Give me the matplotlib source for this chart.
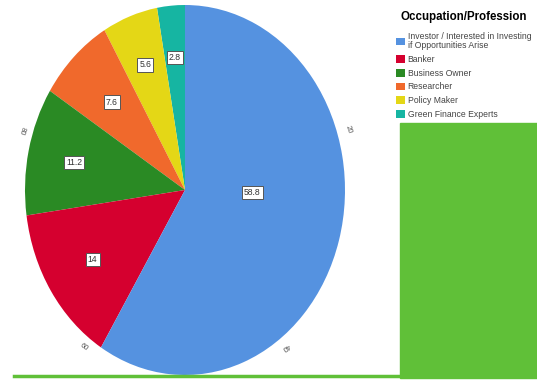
import numpy as np
import matplotlib.pyplot as plt
from matplotlib.patches import Patch, Rectangle
from matplotlib.lines import Line2D

plt.rcParams['font.family'] = ['Liberation Sans', 'DejaVu Sans']

# 数据
categories = ['Investor / Interested in Investing\nif Opportunities Arise', 'Banker',
              'Business Owner', 'Researcher', 'Policy Maker', 'Green Finance Experts']
values = [58.8, 14, 11.2, 7.6, 5.6, 2.8]
value_labels = ['58.8', '14', '11.2', '7.6', '5.6', '2.8']
colors = ['#5592E0', '#D5002F', '#2A8A24', '#F0692C', '#E4D716', '#16B5A2']
rim_ticks = ['20', '40', '60', '80']

fig = plt.figure(figsize=(5.37, 3.83), dpi=100)

# 右侧绿色块和底部绿线
fig.patches.append(Rectangle((400 / 537, 5 / 383), 137 / 537, 255 / 383,
                             transform=fig.transFigure, color='#60C038', zorder=0))
fig.add_artist(Line2D([14 / 537, 400 / 537], [7 / 383, 7 / 383],
                      transform=fig.transFigure, color='#60C038', lw=2.5))

ax = fig.add_axes([25 / 537, 8 / 383, 320 / 537, 370 / 383])
# 饼图从顶部开始，逆时针方向，蓝色块最后画
order = values[::-1]
wedges, _ = ax.pie(order, colors=colors[::-1], startangle=90, counterclock=True,
                   wedgeprops=dict(linewidth=0))
ax.set_aspect('auto')
ax.set_xlim(-1, 1)
ax.set_ylim(-1, 1)

lab_r = [0.72, 0.72, 0.66, 0.71, 0.69, 0.42]
for w, txt, r in zip(wedges, value_labels[::-1], lab_r):
    mid = np.deg2rad((w.theta1 + w.theta2) / 2)
    if txt == '58.8':
        mid = np.deg2rad(w.theta2 - 92)
    ax.text(r * np.cos(mid), r * np.sin(mid), txt, ha='center', va='center', fontsize=6.2,
            color='#333333',
            bbox=dict(boxstyle='square,pad=0.25', fc='white', ec='#555555', lw=0.7))

# 外圈刻度 (顺时针百分比)
for t in rim_ticks:
    cw = float(t) / 100 * 360
    ang = np.deg2rad(90 - cw)
    rot = -cw if cw < 180 else 180 - cw
    ax.text(1.07 * np.cos(ang), 1.05 * np.sin(ang), t, ha='center', va='center',
            fontsize=5.5, color='#555555', rotation=rot, clip_on=False)

handles = [Patch(facecolor=c, edgecolor='none') for c in colors]
leg = fig.legend(handles, categories, loc='upper left', bbox_to_anchor=(393 / 537, 1 - 8 / 383),
                 frameon=False, fontsize=6.2, title='Occupation/Profession',
                 title_fontproperties={'weight': 'bold', 'size': 8.3},
                 handlelength=1.0, handleheight=1.0, handletextpad=0.3,
                 labelspacing=0.55, borderaxespad=0)
leg._legend_box.sep = 6
for t in leg.get_texts():
    t.set_color('#444444')
    t.set_linespacing(1.05)

fig.savefig('out.png', dpi=100)
